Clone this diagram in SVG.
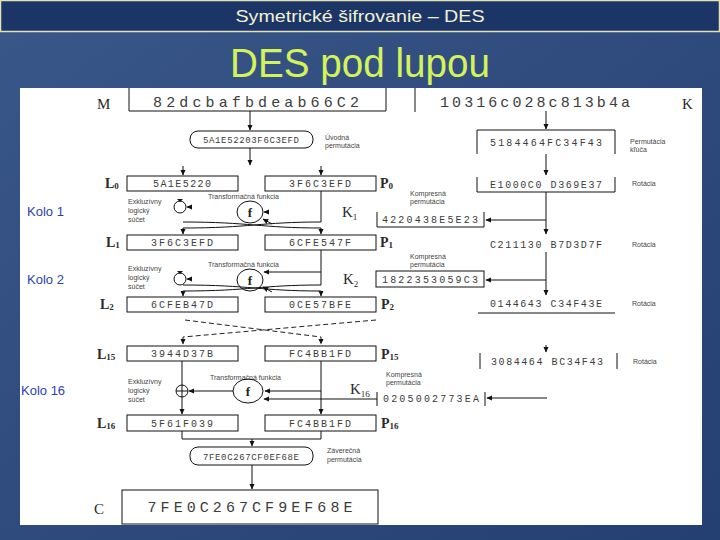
<svg xmlns="http://www.w3.org/2000/svg" width="720" height="540" viewBox="0 0 720 540">
<defs>
<linearGradient id="bg" x1="0" y1="0" x2="1" y2="1">
<stop offset="0" stop-color="#3a578a"/><stop offset="1" stop-color="#243f71"/>
</linearGradient>
<marker id="ah" viewBox="0 0 10 10" refX="9" refY="5" markerWidth="6" markerHeight="6" orient="auto" markerUnits="userSpaceOnUse"><path d="M0,0.5 L10,5 L0,9.5 z" fill="#111"/></marker>
<style>
.box{fill:#fff;stroke:#111;stroke-width:1}
.ln{fill:none;stroke:#111;stroke-width:1}
.dash{fill:none;stroke:#222;stroke-width:1;stroke-dasharray:5 3}
.hex{font-family:"Liberation Mono",monospace;fill:#3c3c3c;text-anchor:middle}
.lbl{font-family:"Liberation Serif",serif;font-weight:bold;fill:#2a2a2a;font-size:14px}
.kl{font-family:"Liberation Serif",serif;fill:#2a2a2a;font-size:15px}
.note{font-family:"Liberation Sans",sans-serif;fill:#444;font-size:7px}
.kolo{font-family:"Liberation Sans",sans-serif;fill:#2b3fb5;font-size:13px}
.fn{font-family:"Liberation Serif",serif;font-weight:bold;fill:#222;font-size:13px;text-anchor:middle}
</style>
</defs>
<rect x="0" y="0" width="720" height="540" fill="url(#bg)"/>
<g id="header">
<rect x="0.5" y="0.5" width="719" height="31" fill="#1c3567" stroke="#e2e2b4" stroke-width="1.5"/>
<text x="360" y="22" font-family="Liberation Sans, sans-serif" font-size="17" fill="#f2f2d2" text-anchor="middle" textLength="249" lengthAdjust="spacingAndGlyphs">Symetrické šifrovanie – DES</text>
<text x="360" y="77" font-family="Liberation Sans, sans-serif" font-size="40" fill="#d4f25a" text-anchor="middle" textLength="260" lengthAdjust="spacingAndGlyphs">DES pod lupou</text>
</g>
<rect x="20" y="88" width="682" height="437" fill="#fff"/>

<g id="connectors">
<path class="ln" d="M250,111 V130" marker-end="url(#ah)"/>
<path class="ln" d="M250,148 V165" marker-end="url(#ah)"/>
<path class="ln" d="M183,166 V175" marker-end="url(#ah)"/>
<path class="ln" d="M321,166 V175" marker-end="url(#ah)"/>
<path class="ln" d="M546,111 V129" marker-end="url(#ah)"/>
<path class="ln" d="M546,154 V175" marker-end="url(#ah)"/>
<path class="ln" d="M546,192 V234" marker-end="url(#ah)"/>
<path class="ln" d="M546,220 H486" marker-end="url(#ah)"/>
<path class="ln" d="M546,252 V295" marker-end="url(#ah)"/>
<path class="ln" d="M546,280 H486" marker-end="url(#ah)"/>
<path class="ln" d="M546,345 V352" marker-end="url(#ah)"/>
<path class="ln" d="M547,398 H487" marker-end="url(#ah)"/>
<!-- round 1 -->
<path class="ln" d="M321,191 V222 C260,222 250,228 183,228 V234" marker-end="url(#ah)"/>
<path class="ln" d="M183,222 C250,222 260,228 321,228 V234" marker-end="url(#ah)"/>
<path class="ln" d="M272,224 L263,219" marker-end="url(#ah)"/>
<path class="ln" d="M268,212 H264" marker-end="url(#ah)"/>
<path class="ln" d="M192,207 H187" marker-end="url(#ah)"/>
<!-- round 2 -->
<path class="ln" d="M321,250 V272 H264" marker-end="url(#ah)"/>
<path class="ln" d="M321,272 V285 C260,285 250,291 183,291 V296" marker-end="url(#ah)"/>
<path class="ln" d="M183,285 C250,285 260,291 321,291 V296" marker-end="url(#ah)"/>
<path class="ln" d="M272,292 L263,287" marker-end="url(#ah)"/>
<path class="ln" d="M192,279 H187" marker-end="url(#ah)"/>
<!-- dashed -->
<path class="dash" d="M185,320 L321,337 V344" marker-end="url(#ah)"/>
<path class="dash" d="M376,320 L183,337 V344" marker-end="url(#ah)"/>
<!-- round 16 -->
<path class="ln" d="M182,361 V414" marker-end="url(#ah)"/>
<path class="ln" d="M321,361 V414" marker-end="url(#ah)"/>
<path class="ln" d="M321,391 H265" marker-end="url(#ah)"/>
<path class="ln" d="M377,399 H264" marker-end="url(#ah)"/>
<path class="ln" d="M233,391 H189" marker-end="url(#ah)"/>
<path class="ln" d="M182,431 V439 H321 V431"/>
<path class="ln" d="M252,439 V446" marker-end="url(#ah)"/>
<path class="ln" d="M252,465 V489" marker-end="url(#ah)"/>
</g>

<g id="plaintext">
<text x="97" y="109" class="kl" font-size="19" fill="#555">M</text>
<path class="ln" d="M129,88 V111 H386 V88"/>
<text x="256" y="107" class="hex" font-size="15" textLength="206" lengthAdjust="spacing">82dcbafbdeab66C2</text>
</g>
<g id="key">
<path class="ln" d="M415,88 V112"/>
<text x="535" y="107" class="hex" font-size="15" textLength="190" lengthAdjust="spacing">10316c028c813b4a</text>
<text x="682" y="109" class="kl" font-size="19" fill="#555">K</text>
</g>
<g id="ip">
<rect x="190" y="131" width="123" height="17" rx="8" class="box"/>
<text x="251" y="143" class="hex" font-size="9" textLength="96" lengthAdjust="spacing">5A1E52203F6C3EFD</text>
<text x="325" y="140" class="note">Úvodná</text>
<text x="325" y="148" class="note">permutácia</text>
</g>
<g id="pc1">
<path class="ln" d="M477,154 V130 H615 V154"/>
<text x="546" y="146" class="hex" font-size="10" textLength="112" lengthAdjust="spacing">5184464FC34F43</text>
<text x="630" y="144" class="note">Permutácia</text>
<text x="630" y="152" class="note">kľúča</text>
</g>
<g id="rot1">
<path class="ln" d="M477,177 V192 H615 V177"/>
<text x="546" y="188" class="hex" font-size="10" textLength="112" lengthAdjust="spacing">E1000C0 D369E37</text>
<text x="632" y="186" class="note">Rotácia</text>
</g>
<g id="rot2">
<text x="546" y="248" class="hex" font-size="10" textLength="112" lengthAdjust="spacing">C211130 B7D3D7F</text>
<text x="632" y="247" class="note">Rotácia</text>
</g>
<g id="rot3">
<path class="ln" d="M478,313 H615"/>
<text x="546" y="307" class="hex" font-size="10" textLength="112" lengthAdjust="spacing">0144643 C34F43E</text>
<text x="632" y="306" class="note">Rotácia</text>
</g>
<g id="rot15">
<path class="ln" d="M480,353 V369 M617,353 V369"/>
<text x="547" y="365" class="hex" font-size="10" textLength="112" lengthAdjust="spacing">3084464 BC34F43</text>
<text x="633" y="364" class="note">Rotácia</text>
</g>

<g id="L0">
<text x="105" y="188" class="lbl">L<tspan font-size="9" dy="1">0</tspan></text>
<rect x="127" y="176" width="111" height="15" class="box"/>
<text x="182" y="187" class="hex" font-size="10" textLength="58" lengthAdjust="spacing">5A1E5220</text>
</g>
<g id="P0">
<rect x="265" y="176" width="111" height="15" class="box"/>
<text x="320" y="187" class="hex" font-size="10" textLength="62" lengthAdjust="spacing">3F6C3EFD</text>
<text x="380" y="188" class="lbl">P<tspan font-size="9" dy="1">0</tspan></text>
</g>
<g id="round1">
<text x="27" y="216" class="kolo">Kolo 1</text>
<text x="128" y="204" class="note">Exkluzívny</text>
<text x="128" y="213" class="note">logický</text>
<text x="128" y="222" class="note">súčet</text>
<text x="208" y="199" class="note">Transformačná funkcia</text>
<circle cx="180" cy="207" r="6" class="ln"/>
<path d="M177,199 L183,199 L180,202 z" fill="#111"/>
<ellipse cx="250" cy="212" rx="13" ry="11" class="ln"/>
<text x="250" y="217" class="fn">f</text>
<text x="342" y="217" class="kl">K<tspan font-size="9" dy="3">1</tspan></text>
<text x="410" y="196" class="note">Kompresná</text>
<text x="410" y="204" class="note">permutácia</text>
<path class="ln" d="M377,212 V227 H484 V212"/>
<text x="430" y="223" class="hex" font-size="10" textLength="96" lengthAdjust="spacing">4220438E5E23</text>
</g>
<g id="L1">
<text x="106" y="247" class="lbl">L<tspan font-size="9" dy="1">1</tspan></text>
<rect x="127" y="235" width="111" height="15" class="box"/>
<text x="182" y="246" class="hex" font-size="10" textLength="62" lengthAdjust="spacing">3F6C3EFD</text>
</g>
<g id="P1">
<rect x="265" y="235" width="111" height="15" class="box"/>
<text x="320" y="246" class="hex" font-size="10" textLength="62" lengthAdjust="spacing">6CFE547F</text>
<text x="380" y="247" class="lbl">P<tspan font-size="9" dy="1">1</tspan></text>
</g>
<g id="round2">
<text x="27" y="284" class="kolo">Kolo 2</text>
<text x="128" y="271" class="note">Exkluzívny</text>
<text x="128" y="280" class="note">logický</text>
<text x="128" y="289" class="note">súčet</text>
<text x="208" y="267" class="note">Transformačná funkcia</text>
<circle cx="180" cy="279" r="6" class="ln"/>
<path d="M177,271 L183,271 L180,274 z" fill="#111"/>
<ellipse cx="250" cy="280" rx="13" ry="11" class="ln"/>
<text x="250" y="285" class="fn">f</text>
<text x="343" y="284" class="kl">K<tspan font-size="9" dy="3">2</tspan></text>
<text x="410" y="259" class="note">Kompresná</text>
<text x="410" y="267" class="note">permutácia</text>
<rect x="376" y="271" width="108" height="16" class="box"/>
<text x="430" y="283" class="hex" font-size="10" textLength="96" lengthAdjust="spacing">1822353059C3</text>
</g>
<g id="L2">
<text x="100" y="309" class="lbl">L<tspan font-size="9" dy="1">2</tspan></text>
<rect x="127" y="297" width="111" height="15" class="box"/>
<text x="182" y="308" class="hex" font-size="10" textLength="62" lengthAdjust="spacing">6CFEB47D</text>
</g>
<g id="P2">
<rect x="265" y="297" width="111" height="15" class="box"/>
<text x="320" y="308" class="hex" font-size="10" textLength="62" lengthAdjust="spacing">0CE57BFE</text>
<text x="381" y="309" class="lbl">P<tspan font-size="9" dy="1">2</tspan></text>
</g>
<g id="L15">
<text x="97" y="359" class="lbl">L<tspan font-size="9" dy="1">15</tspan></text>
<rect x="127" y="346" width="111" height="15" class="box"/>
<text x="182" y="357" class="hex" font-size="10" textLength="62" lengthAdjust="spacing">3944D37B</text>
</g>
<g id="P15">
<rect x="265" y="346" width="111" height="15" class="box"/>
<text x="320" y="357" class="hex" font-size="10" textLength="62" lengthAdjust="spacing">FC4BB1FD</text>
<text x="381" y="359" class="lbl">P<tspan font-size="9" dy="1">15</tspan></text>
</g>
<g id="round16">
<text x="21" y="395" class="kolo">Kolo 16</text>
<text x="128" y="384" class="note">Exkluzívny</text>
<text x="128" y="393" class="note">logický</text>
<text x="128" y="402" class="note">súčet</text>
<text x="210" y="380" class="note">Transformačná funkcia</text>
<circle cx="182" cy="391" r="6" class="ln"/>
<path class="ln" d="M176,391 H188"/>
<ellipse cx="248" cy="391" rx="15" ry="12" class="ln"/>
<text x="248" y="396" class="fn">f</text>
<text x="350" y="394" class="kl">K<tspan font-size="9" dy="3">16</tspan></text>
<text x="386" y="377" class="note">Kompresná</text>
<text x="386" y="385" class="note">permutácia</text>
<path class="ln" d="M377,392 V406 M485,392 V406"/>
<text x="431" y="402" class="hex" font-size="10" textLength="96" lengthAdjust="spacing">0205002773EA</text>
</g>
<g id="L16">
<text x="97" y="428" class="lbl">L<tspan font-size="9" dy="1">16</tspan></text>
<rect x="127" y="415" width="111" height="16" class="box"/>
<text x="182" y="427" class="hex" font-size="10" textLength="62" lengthAdjust="spacing">5F61F039</text>
</g>
<g id="P16">
<rect x="265" y="415" width="111" height="16" class="box"/>
<text x="320" y="427" class="hex" font-size="10" textLength="62" lengthAdjust="spacing">FC4BB1FD</text>
<text x="381" y="428" class="lbl">P<tspan font-size="9" dy="1">16</tspan></text>
</g>
<g id="fp">
<rect x="190" y="447" width="123" height="18" rx="8" class="box"/>
<text x="251" y="460" class="hex" font-size="9" textLength="96" lengthAdjust="spacing">7FE0C267CF0EF68E</text>
<text x="327" y="453" class="note">Záverečná</text>
<text x="327" y="462" class="note">permutácia</text>
</g>
<g id="ciphertext">
<text x="94" y="514" class="kl" font-size="20" fill="#555">C</text>
<rect x="122" y="490" width="256" height="34" class="box"/>
<text x="250" y="512" class="hex" font-size="15" textLength="205" lengthAdjust="spacing">7FE0C267CF9EF68E</text>
</g>
</svg>
